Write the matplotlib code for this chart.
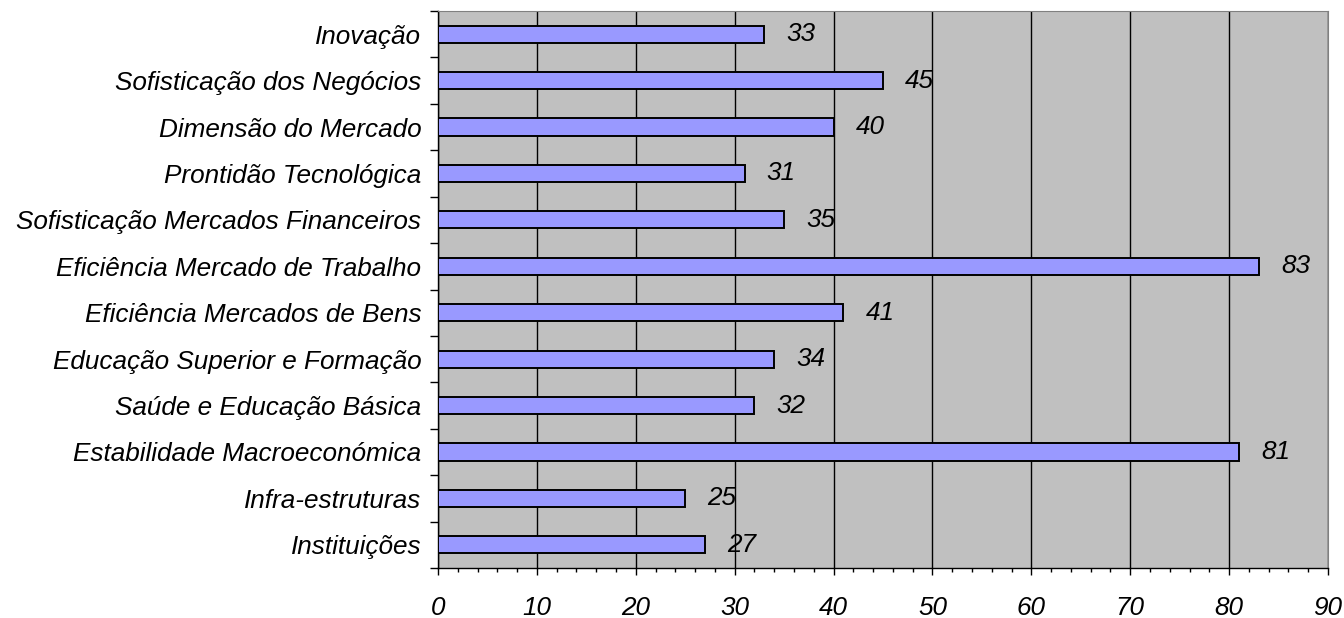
import matplotlib.pyplot as plt
import numpy as np
from matplotlib.ticker import MultipleLocator, FixedLocator, NullFormatter

# categories bottom -> top
categories = ["Instituições", "Infra-estruturas", "Estabilidade Macroeconómica",
              "Saúde e Educação Básica", "Educação Superior e Formação",
              "Eficiência Mercados de Bens", "Eficiência Mercado de Trabalho",
              "Sofisticação Mercados Financeiros", "Prontidão Tecnológica",
              "Dimensão do Mercado", "Sofisticação dos Negócios", "Inovação"]
values = [27, 25, 81, 32, 34, 41, 83, 35, 31, 40, 45, 33]
x_ticks = [0, 10, 20, 30, 40, 50, 60, 70, 80, 90]

plt.rcParams['font.family'] = ['Liberation Sans', 'DejaVu Sans']
fs = 18.8

fig = plt.figure(figsize=(13.44, 6.18), dpi=100)
ax = fig.add_axes([438/1344, 1-568/618, 890/1344, 557/618])
ax.set_facecolor('#C0C0C0')

y = np.arange(len(categories))
ax.barh(y, values, height=0.37, color='#9999FF', edgecolor='black', linewidth=1.4, zorder=3)
for yi, v in zip(y, values):
    ax.annotate(str(v), (v, yi), xytext=(16, 0), textcoords='offset points',
                va='center', ha='left', fontsize=fs, style='italic', zorder=4)

ax.set_xlim(0, 90)
ax.set_ylim(-0.5, len(categories) - 0.5)
ax.set_xticks(x_ticks)
ax.set_xticklabels([str(t) for t in x_ticks], fontsize=fs, style='italic')
ax.xaxis.set_minor_locator(MultipleLocator(2))
ax.tick_params(axis='x', which='major', length=5, width=1, pad=15)
ax.tick_params(axis='x', which='minor', length=3, width=1)
ax.grid(axis='x', which='major', color='black', linewidth=1, zorder=1)

# y ticks at category boundaries, labels at centers
ax.yaxis.set_major_locator(FixedLocator(np.arange(-0.5, len(categories), 1)))
ax.yaxis.set_major_formatter(NullFormatter())
ax.yaxis.set_minor_locator(FixedLocator(y))
ax.set_yticklabels(categories, minor=True, fontsize=fs, style='italic')
ax.tick_params(axis='y', which='major', length=6, width=1)
ax.tick_params(axis='y', which='minor', length=0, pad=12)

for s in ['top', 'right']:
    ax.spines[s].set_color('#808080')
for s in ['left', 'bottom']:
    ax.spines[s].set_color('black')
    ax.spines[s].set_linewidth(1)

fig.savefig('out.png', dpi=100)
